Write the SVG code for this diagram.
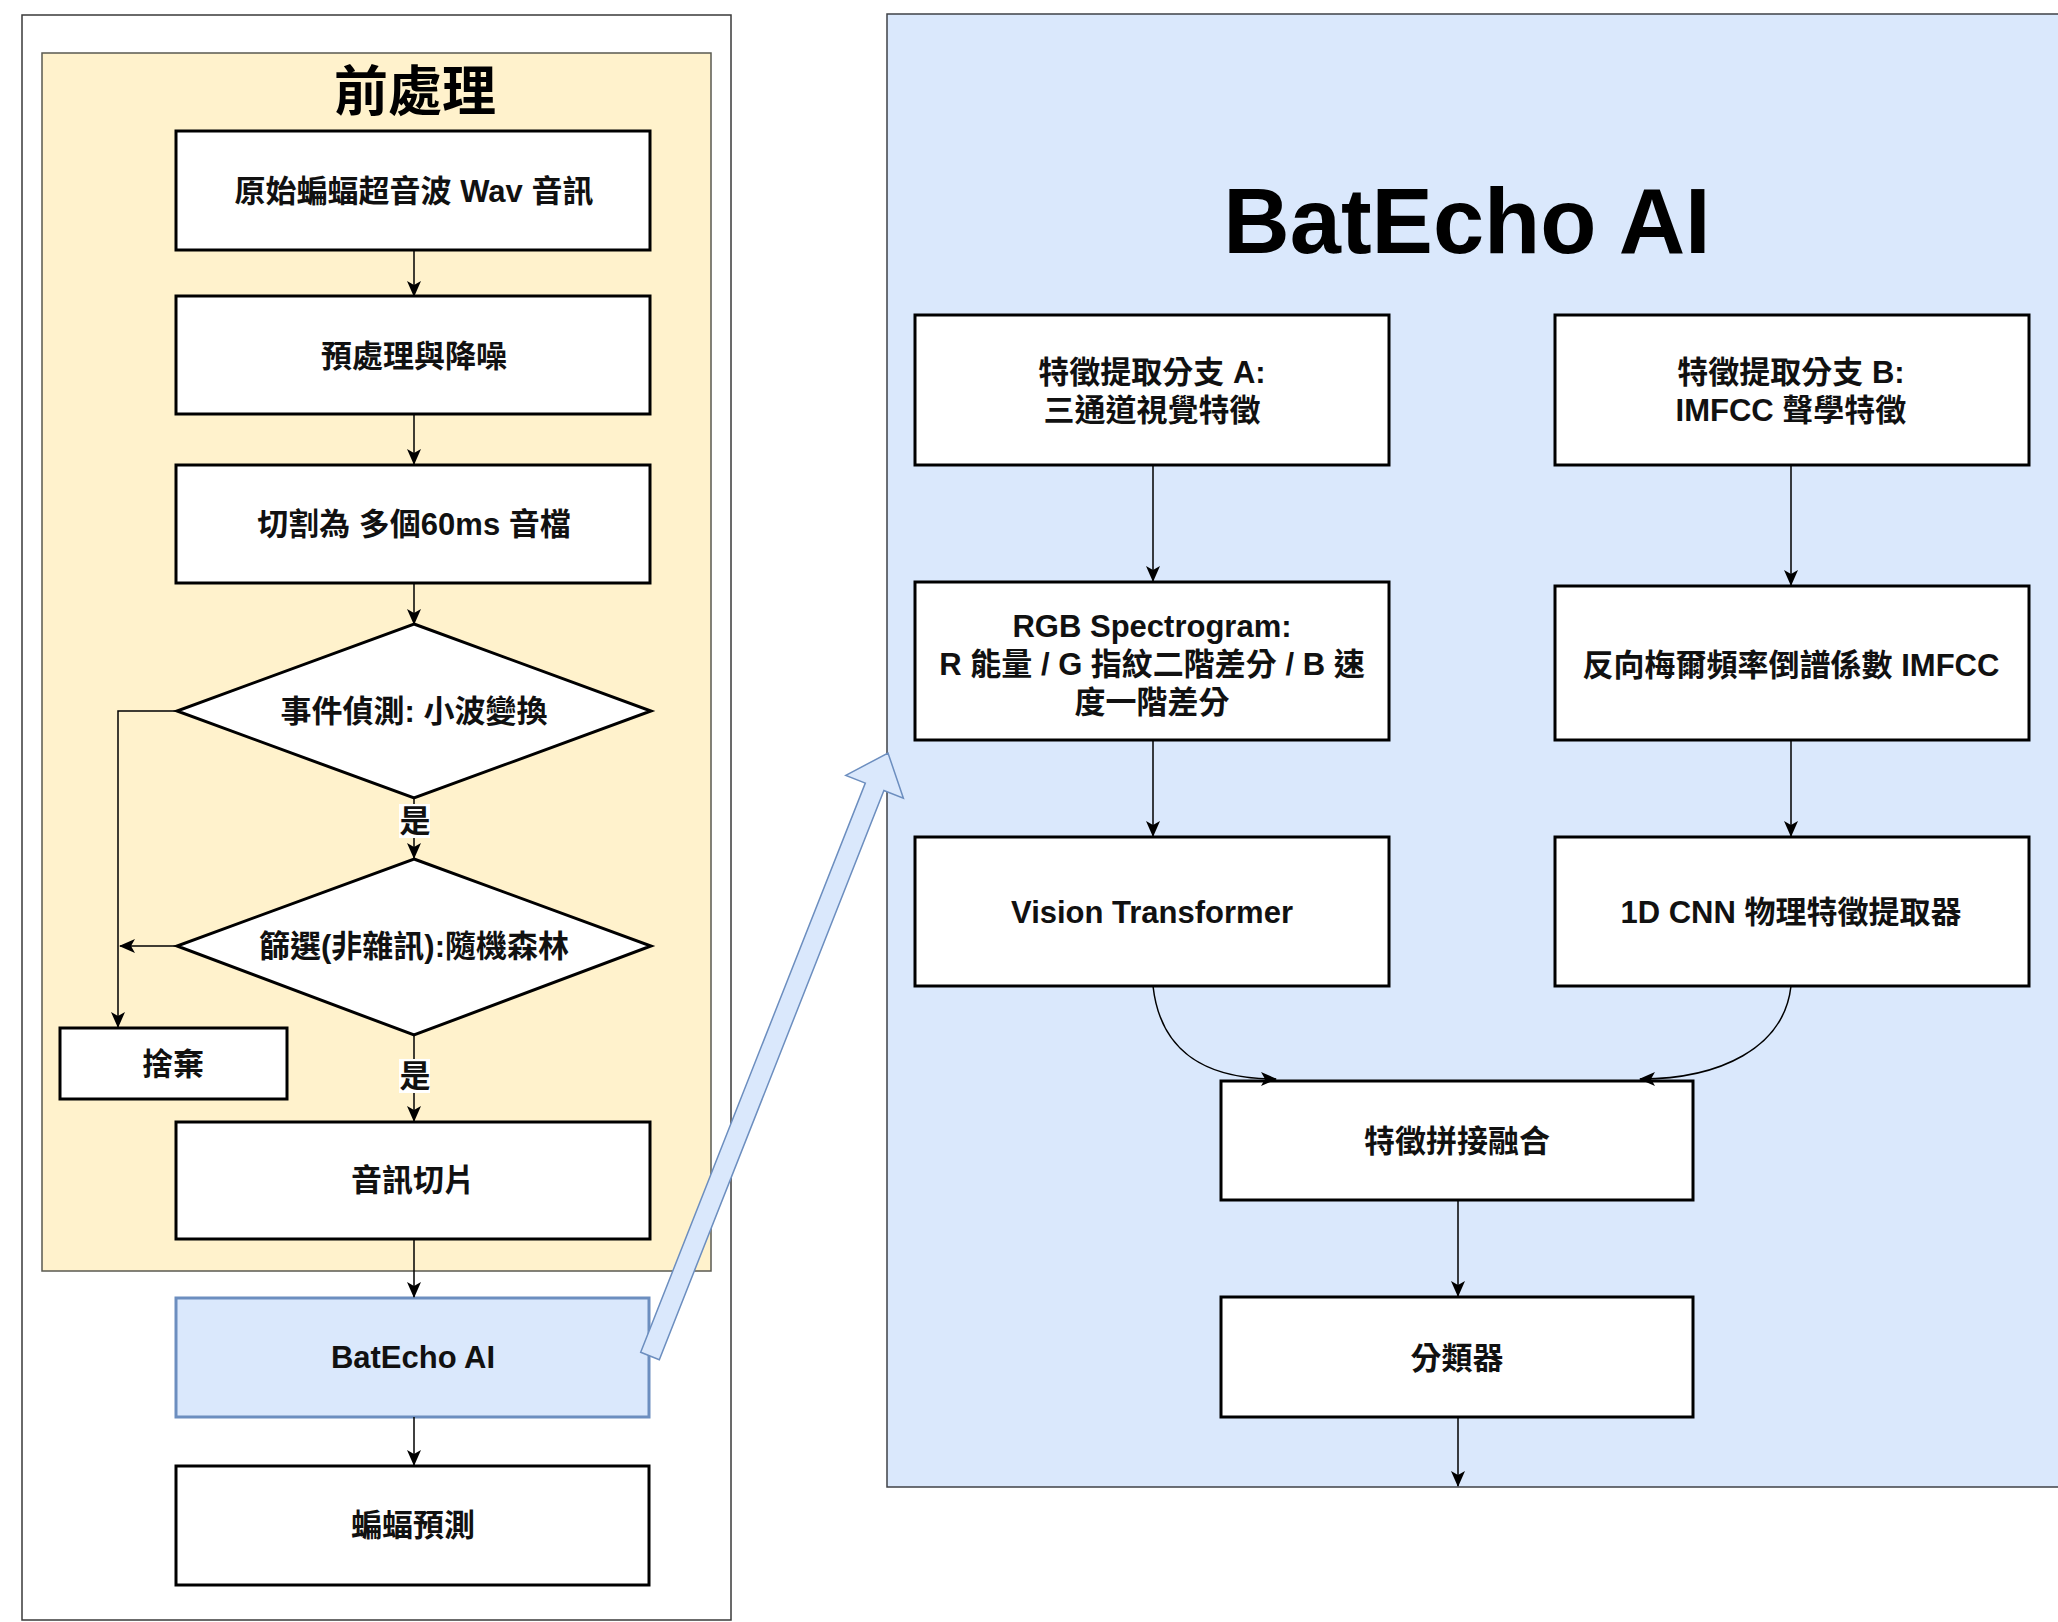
<svg xmlns="http://www.w3.org/2000/svg" width="2058" height="1622" viewBox="0 0 2058 1622">
  <defs>
    <style>
      .frame { fill: #ffffff; stroke: #3a3a3a; stroke-width: 1.5; }
      .pre { fill: #fff2cc; stroke: #5a5a50; stroke-width: 1.5; }
      .panel { fill: #dae8fc; stroke: #3f4247; stroke-width: 1.5; }
      .box { fill: #ffffff; stroke: #000000; stroke-width: 3; }
      .ai { fill: #dae8fc; stroke: #6c8ebf; stroke-width: 3; }
      .t { font-family: "Liberation Sans", "Noto Sans CJK TC", sans-serif; font-weight: bold; font-size: 31px; fill: #111111; text-anchor: middle; dominant-baseline: central; }
      .title { font-family: "Liberation Sans", "Noto Sans CJK TC", sans-serif; font-weight: bold; fill: #000000; text-anchor: middle; }
      .edge { fill: none; stroke: #000000; stroke-width: 1.5; }
      .lblbg { fill: #ffffff; }
      .flex { fill: #dae8fc; stroke: #6c8ebf; stroke-width: 1.5; stroke-linejoin: miter; }
    </style>
    <marker id="arr" viewBox="0 0 16 14" markerWidth="16" markerHeight="14" refX="15" refY="7" orient="auto" markerUnits="userSpaceOnUse">
      <path d="M0,0 L16,7 L0,14 L4,7 Z" fill="#000000"/>
    </marker>
  </defs>

  <rect width="2058" height="1622" fill="#ffffff"/>

  <!-- containers -->
  <g id="container-left">
    <rect class="frame" x="22" y="15" width="709" height="1605"/>
  </g>
  <g id="container-preprocess">
    <rect class="pre" x="42" y="53" width="669" height="1218"/>
    <text class="title" x="415" y="92" font-size="54" dominant-baseline="central">前處理</text>
  </g>
  <g id="container-batecho">
    <rect class="panel" x="887" y="14" width="1190" height="1473"/>
    <text class="title" x="1467" y="253" font-size="92">BatEcho AI</text>
  </g>

  <!-- preprocessing steps -->
  <g id="raw-wav">
    <rect class="box" x="176" y="131" width="474" height="119"/>
    <text class="t" x="414" y="191">原始蝙蝠超音波 Wav 音訊</text>
  </g>
  <g id="denoise">
    <rect class="box" x="176" y="296" width="474" height="118"/>
    <text class="t" x="414" y="356">預處理與降噪</text>
  </g>
  <g id="split-60ms">
    <rect class="box" x="176" y="465" width="474" height="118"/>
    <text class="t" x="414" y="524">切割為 多個60ms 音檔</text>
  </g>
  <g id="event-detect">
    <polygon class="box" points="414,624 651,711 414,798 177,711"/>
    <text class="t" x="414" y="711">事件偵測: 小波變換</text>
  </g>
  <g id="noise-filter">
    <polygon class="box" points="414,859 651,946 414,1035 177,946"/>
    <text class="t" x="414" y="946">篩選(非雜訊):隨機森林</text>
  </g>
  <g id="discard">
    <rect class="box" x="60" y="1028" width="227" height="71"/>
    <text class="t" x="173" y="1064">捨棄</text>
  </g>
  <g id="audio-slice">
    <rect class="box" x="176" y="1122" width="474" height="117"/>
    <text class="t" x="413" y="1180">音訊切片</text>
  </g>
  <g id="batecho-step">
    <rect class="ai" x="176" y="1298" width="473" height="119"/>
    <text class="t" x="413" y="1357">BatEcho AI</text>
  </g>
  <g id="bat-prediction">
    <rect class="box" x="176" y="1466" width="473" height="119"/>
    <text class="t" x="413" y="1525">蝙蝠預測</text>
  </g>

  <!-- model internals -->
  <g id="branch-a">
    <rect class="box" x="915" y="315" width="474" height="150"/>
    <text class="t" x="1152" y="372">特徵提取分支 A:</text>
    <text class="t" x="1152" y="410">三通道視覺特徵</text>
  </g>
  <g id="branch-b">
    <rect class="box" x="1555" y="315" width="474" height="150"/>
    <text class="t" x="1791" y="372">特徵提取分支 B:</text>
    <text class="t" x="1791" y="410">IMFCC 聲學特徵</text>
  </g>
  <g id="rgb-spectrogram">
    <rect class="box" x="915" y="582" width="474" height="158"/>
    <text class="t" x="1152" y="626">RGB Spectrogram:</text>
    <text class="t" x="1152" y="664">R 能量 / G 指紋二階差分 / B 速</text>
    <text class="t" x="1152" y="702">度一階差分</text>
  </g>
  <g id="imfcc">
    <rect class="box" x="1555" y="586" width="474" height="154"/>
    <text class="t" x="1791" y="665">反向梅爾頻率倒譜係數 IMFCC</text>
  </g>
  <g id="vit">
    <rect class="box" x="915" y="837" width="474" height="149"/>
    <text class="t" x="1152" y="912">Vision Transformer</text>
  </g>
  <g id="cnn-1d">
    <rect class="box" x="1555" y="837" width="474" height="149"/>
    <text class="t" x="1791" y="912">1D CNN 物理特徵提取器</text>
  </g>
  <g id="fusion">
    <rect class="box" x="1221" y="1081" width="472" height="119"/>
    <text class="t" x="1457" y="1141">特徵拼接融合</text>
  </g>
  <g id="classifier">
    <rect class="box" x="1221" y="1297" width="472" height="120"/>
    <text class="t" x="1457" y="1358">分類器</text>
  </g>

  <!-- connectors, drawn on top of the nodes -->
  <g id="connectors">
    <path class="edge" d="M414,250 L414,296" marker-end="url(#arr)"/>
    <path class="edge" d="M414,414 L414,464" marker-end="url(#arr)"/>
    <path class="edge" d="M414,583 L414,624" marker-end="url(#arr)"/>
    <path class="edge" d="M414,798 L414,858" marker-end="url(#arr)"/>
    <path class="edge" d="M414,1035 L414,1121" marker-end="url(#arr)"/>
    <path class="edge" d="M177,711 L118,711 L118,1027" marker-end="url(#arr)"/>
    <path class="edge" d="M177,946 L120,946" marker-end="url(#arr)"/>
    <path class="edge" d="M414,1239 L414,1297" marker-end="url(#arr)"/>
    <path class="edge" d="M414,1417 L414,1465" marker-end="url(#arr)"/>

    <path class="edge" d="M1153,465 L1153,581" marker-end="url(#arr)"/>
    <path class="edge" d="M1791,465 L1791,585" marker-end="url(#arr)"/>
    <path class="edge" d="M1153,740 L1153,836" marker-end="url(#arr)"/>
    <path class="edge" d="M1791,740 L1791,836" marker-end="url(#arr)"/>
    <path class="edge" d="M1153,986 C1160,1048 1200,1079 1276,1079" marker-end="url(#arr)"/>
    <path class="edge" d="M1791,986 C1784,1048 1720,1079 1640,1079" marker-end="url(#arr)"/>
    <path class="edge" d="M1458,1200 L1458,1296" marker-end="url(#arr)"/>
    <path class="edge" d="M1458,1417 L1458,1486" marker-end="url(#arr)"/>

    <!-- wide link from the BatEcho AI step to the expanded panel -->
    <polygon class="flex" points="640.7,1352.3 865.3,783.1 845.8,775.4 888,753 903.4,798.2 883.9,790.5 659.3,1359.7"/>

    <!-- branch labels -->
    <rect class="lblbg" x="399" y="804" width="31" height="34"/>
    <text class="t" x="415" y="821">是</text>
    <rect class="lblbg" x="399" y="1059" width="31" height="34"/>
    <text class="t" x="415" y="1076">是</text>
  </g>
</svg>
